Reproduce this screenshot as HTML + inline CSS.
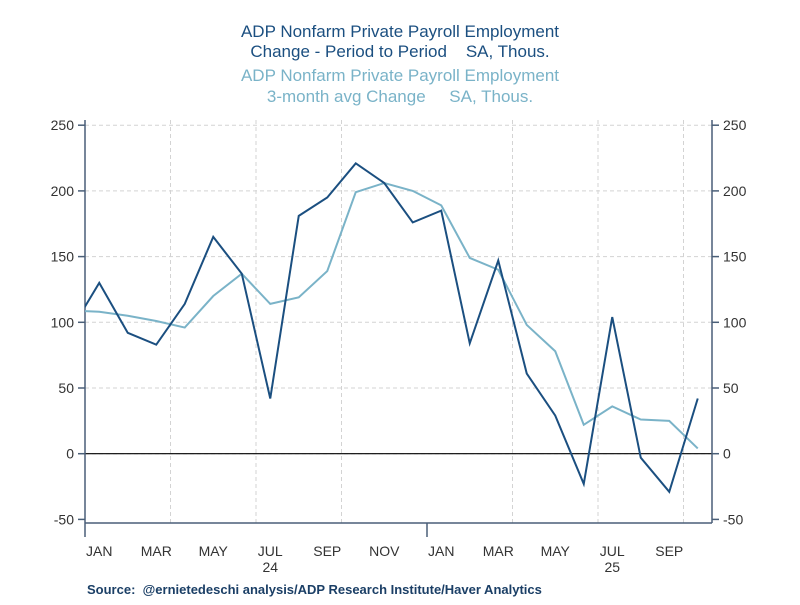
<!DOCTYPE html>
<html><head><meta charset="utf-8"><style>
body{margin:0;background:#fff;}
svg text{font-family:"Liberation Sans",sans-serif;white-space:pre;}
</style></head><body>
<svg id="chart" width="800" height="600" viewBox="0 0 800 600" xmlns="http://www.w3.org/2000/svg">
<g font-size="17" text-anchor="middle">
<text x="400" y="37" fill="#1b4f80">ADP Nonfarm Private Payroll Employment</text>
<text x="400" y="57" fill="#1b4f80">Change - Period to Period    SA, Thous.</text>
<text x="400" y="81" fill="#7ab3c8">ADP Nonfarm Private Payroll Employment</text>
<text x="400" y="102" fill="#7ab3c8">3-month avg Change     SA, Thous.</text>
</g>
<defs><clipPath id="plotclip"><rect x="85" y="120" width="627" height="403"/></clipPath></defs>
<g id="grid"></g>
<g id="axes"></g>
<g id="series" clip-path="url(#plotclip)"></g>
<text x="87" y="594" font-size="13" font-weight="bold" fill="#1b3f66">Source:  @ernietedeschi analysis/ADP Research Institute/Haver Analytics</text>
</svg>
<script>
const months = ["DEC23","JAN","FEB","MAR","APR","MAY","JUN","JUL","AUG","SEP","OCT","NOV","DEC","JAN","FEB","MAR","APR","MAY","JUN","JUL","AUG","SEP","OCT"];
const changeValues = [94,130,92,83,114,165,137,42,181,195,221,206,176,185,84,147,61,29,-23,104,-3,-29,42];
const avgValues = [109,108,105,101,96,120,137,114,119,139,199,206,200,189,149,140,98,78,22,36,26,25,4];
const yTicks = [-50,0,50,100,150,200,250];
const xLabels = [["JAN",1],["MAR",3],["MAY",5],["JUL",7],["SEP",9],["NOV",11],["JAN",13],["MAR",15],["MAY",17],["JUL",19],["SEP",21]];
const yearLabels = [["24",7],["25",19]];

const NS="http://www.w3.org/2000/svg";
const L=85,R=712,step=28.5;
function xs(i){return L+(i-1+0.5)*step;}
function ys(v){return 453.7-v*1.314;}
function mk(tag,attrs,parent){const e=document.createElementNS(NS,tag);for(const k in attrs)e.setAttribute(k,attrs[k]);parent.appendChild(e);return e;}
const grid=document.getElementById('grid'),axes=document.getElementById('axes'),series=document.getElementById('series');
yTicks.forEach(t=>{
  const y=ys(t);
  if(t!==-50){const g=mk('line',{x1:L,x2:R,y1:y,y2:y,stroke:'#d3d3d3','stroke-dasharray':'4,3','stroke-width':1},grid);
  
  }
  [[L-7,L],[R,R+7]].forEach(p=>{const tk=mk('line',{x1:p[0],x2:p[1],y1:y,y2:y,stroke:'#4a5f78','stroke-width':1.5},axes);
  
  });
  const a=mk('text',{x:L-11,y:y+5,'font-size':14,'text-anchor':'end',fill:'#333'},axes);a.textContent=t;
  
  
  const b=mk('text',{x:R+11,y:y+5,'font-size':14,fill:'#333'},axes);b.textContent=t;
  
  
});
for(let q=1;q<=7;q++){const x=L+q*3*step;
  if(q!==4){const g=mk('line',{x1:x,x2:x,y1:120,y2:523,stroke:'#d3d3d3','stroke-dasharray':'4,3','stroke-width':1},grid);
  
  }}
const zl=mk('line',{x1:L,x2:R,y1:ys(0),y2:ys(0),stroke:'#000','stroke-width':1.2},axes);


const la=mk('line',{x1:L,x2:L,y1:120,y2:537,stroke:'#4a5f78','stroke-width':1.5},axes);


const ra=mk('line',{x1:R,x2:R,y1:120,y2:523,stroke:'#4a5f78','stroke-width':1.5},axes);


const ba=mk('line',{x1:L,x2:R,y1:523,y2:523,stroke:'#4a5f78','stroke-width':1.5},axes);


const yt=mk('line',{x1:L+12*step,x2:L+12*step,y1:523,y2:537,stroke:'#4a5f78','stroke-width':1.5},axes);


xLabels.forEach(l=>{const t=mk('text',{x:xs(l[1]),y:556,'font-size':14,'text-anchor':'middle',fill:'#333'},axes);t.textContent=l[0];
  
  });
yearLabels.forEach(l=>{const t=mk('text',{x:xs(l[1]),y:572,'font-size':14,'text-anchor':'middle',fill:'#333'},axes);t.textContent=l[0];
  
  });
function line(vals,color,name){
  const p=mk('polyline',{points:vals.map((v,i)=>xs(i)+','+ys(v)).join(' '),fill:'none',stroke:color,'stroke-width':2,'stroke-linejoin':'miter'},series);
  
  
}
line(avgValues,'#7ab3c8','avg-change-line');
line(changeValues,'#1b4f80','period-change-line');
</script>
</body></html>
